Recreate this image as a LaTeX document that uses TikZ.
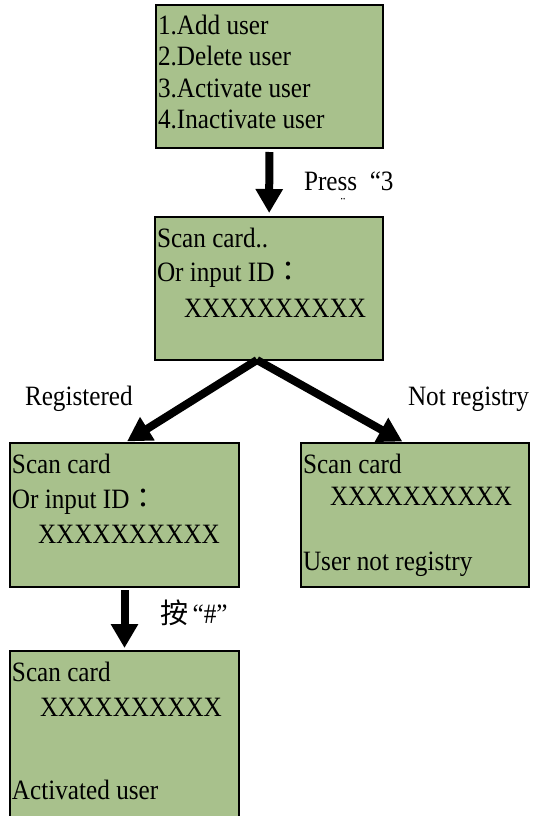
\documentclass[tikz,border=0pt]{standalone}
\usepackage{fontspec}
\setmainfont[FakeStretch=0.9]{Liberation Serif}
\newfontfamily\cjk{Noto Sans CJK TC}
\usetikzlibrary{arrows.meta,calc}
\definecolor{lcdgreen}{RGB}{168,193,140}
\tikzset{
  screen/.style={draw=black, line width=2.5pt, fill=lcdgreen, rectangle, inner sep=0pt, outer sep=0pt},
  txt/.style={anchor=base west, inner sep=0pt, outer sep=0pt, font=\fontsize{28}{28}\selectfont},
  lbl/.style={anchor=base west, inner sep=0pt, outer sep=0pt, font=\fontsize{28}{28}\selectfont},
  bigarrow/.style={line width=8pt, -{Triangle[width=26pt,length=24pt]}},
}
\begin{document}
\begin{tikzpicture}[x=1pt,y=-1pt]
\clip (0,0) rectangle (538,816);
\fill[white] (0,0) rectangle (538,816);
% screens
\node[screen, minimum width=227pt, minimum height=143pt] (b1) at (269.5,76.5) {};
\node[screen, minimum width=228pt, minimum height=143pt] (b2) at (269,288.5) {};
\node[screen, minimum width=229pt, minimum height=144pt] (b3) at (124.5,515) {};
\node[screen, minimum width=228pt, minimum height=144pt] (b4) at (415,515) {};
\node[screen, minimum width=229pt, minimum height=190pt] (b5) at (124.5,746) {};
% texts box 1
\node[txt] (t11) at (158,35) {1.Add user};
\node[txt] (t12) at (158,66) {2.Delete user};
\node[txt] (t13) at (158,97) {3.Activate user};
\node[txt] (t14) at (158,128) {4.Inactivate user};
% box 2
\node[txt] (t21) at (157,247) {Scan card..};
\node[txt] (t22) at (157,281) {Or input ID{\cjk ：}};
\node[txt] (t23) at (184,317) {XXXXXXXXXX};
% box 3
\node[txt] (t31) at (12,473) {Scan card};
\node[txt] (t32) at (12,508) {Or input ID{\cjk ：}};
\node[txt] (t33) at (38,543) {XXXXXXXXXX};
% box 4
\node[txt] (t41) at (303,473) {Scan card};
\node[txt] (t42) at (330,505) {XXXXXXXXXX};
\node[txt] (t43) at (303,570) {User not registry};
% box 5
\node[txt] (t51) at (12,681) {Scan card};
\node[txt] (t52) at (40,716) {XXXXXXXXXX};
\node[txt] (t53) at (12,799) {Activated user};
% labels
\node[lbl] (lp) at (304,190) {Press \ “3};
\node[anchor=north, inner sep=0pt, font=\fontsize{16}{16}\selectfont] (lq) at (343,198) {¨};
\node[lbl] (lr) at (25,405) {Registered};
\node[lbl] (ln) at (408,405) {Not registry};
\node[lbl] (lh) at (160,623) {{\cjk 按}\,“\#”};
% arrows
\draw[bigarrow, shorten <=4pt, shorten >=4pt] (b1) -- (b2);
\draw[bigarrow, shorten >=3pt] ($(b2.south)+(-12,0)$) -- (b3.north);
\draw[bigarrow, shorten >=3pt] ($(b2.south)+(-12,0)$) -- ($(b4.north)+(-10,0)$);
\draw[bigarrow, shorten <=3pt, shorten >=3pt] (b3) -- (b5);
\end{tikzpicture}
\end{document}
